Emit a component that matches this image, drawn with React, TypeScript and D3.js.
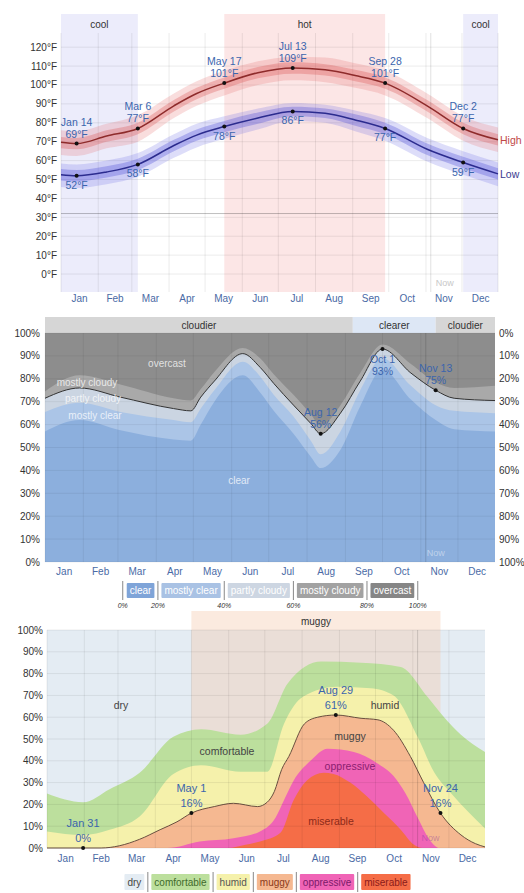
import React from "react";
import * as d3 from "d3";

const YEAR = 2023;
const MONTHS = ["Jan", "Feb", "Mar", "Apr", "May", "Jun", "Jul", "Aug", "Sep", "Oct", "Nov", "Dec"];
const NOW_DATE = "Nov 5";

// ---------- Temperature ----------
const TEMP_DAYS = [0, 13, 38, 64, 94, 113, 136, 164, 193, 220, 245, 270, 305, 335, 364];
const HIGH_MEAN = [69.7, 69, 73, 77, 89, 95.5, 101, 106.5, 109, 108, 105, 101, 89, 77, 71];
const HIGH_P90 = [76, 75.5, 79.5, 84, 95.5, 102, 107.5, 112.5, 115, 114.5, 111.5, 107.5, 95.5, 83.5, 77.5];
const HIGH_P75 = [72.5, 72, 76, 80, 92, 98.5, 104, 109.5, 112, 111, 108, 104, 92, 80, 74];
const HIGH_P25 = [66.5, 66, 70, 74, 86, 92.5, 98, 103.5, 106, 105, 102, 98, 86, 74, 68];
const HIGH_P10 = [63, 62.5, 66.5, 70, 82.5, 89, 94.5, 100, 102.5, 101.5, 98.5, 94.5, 82.5, 70.5, 64.5];
const LOW_MEAN = [52.5, 52, 54, 58, 68, 73.5, 78, 82.5, 86, 85, 81.5, 77, 66, 59, 53];
const LOW_P90 = [58.5, 58, 60, 64, 74, 79.5, 83.5, 87.5, 90.5, 89.5, 86.5, 82.5, 72, 65, 59];
const LOW_P75 = [55.5, 55, 57, 61, 71, 76.5, 81, 85.5, 88.5, 87.5, 84.5, 80, 69, 62, 56];
const LOW_P25 = [49.5, 49, 51, 55, 65, 70.5, 75, 79.5, 83.5, 82.5, 78.5, 74, 63, 56, 50];
const LOW_P10 = [46, 45.5, 47.5, 51.5, 61.5, 67, 71.5, 76.5, 81, 80, 75.5, 70.5, 59.5, 52.5, 46.5];
const TEMP_TICKS = [0, 10, 20, 30, 40, 50, 60, 70, 80, 90, 100, 110, 120];
const TEMP_ANNOT_DATES = ["Jan 14", "Mar 6", "May 17", "Jul 13", "Sep 28", "Dec 2"];
const TEMP_ANNOT_HIGH = [69, 77, 101, 109, 101, 77];
const TEMP_ANNOT_LOW = [52, 58, 78, 86, 77, 59];
const TEMP_SEASON_LABELS = ["cool", "hot", "cool"];
const TEMP_SEASON_FROM = ["Jan 1", "May 17", "Dec 2"];
const TEMP_SEASON_TO = ["Mar 6", "Sep 28", "Dec 31"];

// ---------- Cloud cover ----------
const CLOUD_DAYS = [0, 28, 61, 104, 118, 126, 137, 160, 174, 185, 201, 215, 223, 239, 255, 273, 296, 316, 331, 364];
const CLOUD_MOSTLY_CLOUDY_TOP = [74.5, 81.5, 77.5, 71.5, 70.5, 75.5, 83, 93.5, 89, 82, 73, 64.5, 59.5, 68.5, 82.5, 95, 86.5, 78.5, 76, 77];
const CLOUD_PARTLY_CLOUDY_TOP = [71.5, 76, 72, 67, 66, 72, 79, 91, 85, 78, 68.5, 60.5, 56, 65, 79, 93, 82.5, 75, 71.5, 70.5];
const CLOUD_MOSTLY_CLEAR_TOP = [65.5, 69.5, 65.5, 62, 61, 67, 75, 87.5, 81, 73, 63.5, 53, 47, 57, 75, 89, 77, 68.5, 66, 65];
const CLOUD_CLEAR_TOP = [57, 62, 57.5, 53.5, 53, 60, 70, 81.5, 74, 66, 56, 46, 41, 49, 68, 84, 71, 62, 58, 57];
const CLOUD_TICKS = [0, 10, 20, 30, 40, 50, 60, 70, 80, 90, 100];
const CLOUD_ANNOT_DATES = ["Aug 12", "Oct 1", "Nov 13"];
const CLOUD_ANNOT_VALUES = [56, 93, 75];
const CLOUD_ANNOT_BELOW = [false, true, false];
const CLOUD_SEASON_LABELS = ["cloudier", "clearer", "cloudier"];
const CLOUD_SEASON_FROM = ["Jan 1", "Sep 7", "Nov 13"];
const CLOUD_SEASON_TO = ["Sep 7", "Nov 13", "Dec 31"];
const CLOUD_LEGEND = ["clear", "mostly clear", "partly cloudy", "mostly cloudy", "overcast"];
const CLOUD_LEGEND_PCT = ["0%", "20%", "40%", "60%", "80%", "100%"];

// ---------- Humidity ----------
const COMF_DAYS = [0, 30, 52, 77, 105, 128, 161, 183, 200, 228, 261, 294, 316, 330, 344, 364];
const COMF_TOP = [25, 21, 27, 34.5, 51, 54.5, 52, 57, 75.5, 85.5, 85, 83, 69.5, 60, 52, 44];
const HUMID_DAYS = [0, 30, 52, 77, 105, 128, 161, 183, 197, 213, 241, 269, 288, 308, 322, 336, 364];
const HUMID_TOP = [7.6, 6, 8.4, 14.5, 34, 38, 35, 35, 57, 69.5, 74, 73.3, 70, 51, 34.5, 25, 9];
const MUGGY_DAYS = [0, 45, 60, 77, 94, 108, 120, 139, 155, 175, 183, 189, 195, 201, 214, 225, 240, 261, 275, 288, 302, 313, 327, 344, 356, 364];
const MUGGY_TOP = [0, 0, 1, 4, 8.4, 12, 16, 19, 20.5, 19, 21, 26, 36, 42, 57, 60, 61, 59.5, 58.8, 54, 42, 30, 16, 6, 2, 0.5];
const OPPR_DAYS = [0, 100, 127, 155, 177, 190, 197, 205, 219, 233, 255, 274, 288, 298, 308, 319, 326, 364];
const OPPR_TOP = [0, 0, 3, 4.5, 7.6, 14, 22, 31, 40, 45.5, 44, 39, 33, 25, 14, 3, 0, 0];
const MISER_DAYS = [0, 150, 165, 177, 194, 205, 216, 230, 238, 252, 266, 280, 294, 305, 312, 364];
const MISER_TOP = [0, 0, 1.5, 3, 7, 22, 31, 34.5, 34, 30, 23.6, 16, 8.4, 1.5, 0, 0];
const HUM_TICKS = [0, 10, 20, 30, 40, 50, 60, 70, 80, 90, 100];
const HUM_ANNOT_DATES = ["Jan 31", "May 1", "Aug 29", "Nov 24"];
const HUM_ANNOT_VALUES = [0, 16, 61, 16];
const HUM_SEASON_LABEL = "muggy";
const HUM_SEASON_FROM = "May 1";
const HUM_SEASON_TO = "Nov 24";
const HUM_LEGEND = ["dry", "comfortable", "humid", "muggy", "oppressive", "miserable"];

// ---------- helpers ----------
const FONT = "'Liberation Sans', Arial, Helvetica, sans-serif";
const parse = d3.timeParse("%b %d %Y");
const dayOf = (s: string) => d3.timeDay.count(new Date(YEAR, 0, 1), parse(s + " " + YEAR) as Date);
const MONTH_START = d3.range(12).map((m) => d3.timeDay.count(new Date(YEAR, 0, 1), new Date(YEAR, m, 1)));
const MONTH_MID = MONTH_START.map((s, i) => (s + (i < 11 ? MONTH_START[i + 1] : 365)) / 2);
const NOW_DAY = dayOf(NOW_DATE);

let _ctx: CanvasRenderingContext2D | null = null;
function textW(t: string, size: number) {
  if (!_ctx) _ctx = document.createElement("canvas").getContext("2d");
  if (!_ctx) return t.length * size * 0.5;
  _ctx.font = `${size}px 'Liberation Sans', Arial, sans-serif`;
  return _ctx.measureText(t).width;
}

function areaPath(days: number[], lo: number[] | null, hi: number[], x: any, y: any) {
  return d3
    .area<number>()
    .x((d) => x(d))
    .y0((_, i) => y(lo ? lo[i] : 0))
    .y1((_, i) => y(hi[i]))
    .curve(d3.curveMonotoneX)(days) as string;
}
function linePath(days: number[], v: number[], x: any, y: any) {
  return d3
    .line<number>()
    .x((d) => x(d))
    .y((_, i) => y(v[i]))
    .curve(d3.curveMonotoneX)(days) as string;
}

function Legend({ labels, fills, colors, cx, y, h, outer, pct }: any) {
  const pad = 3;
  const gap = 3;
  const widths = labels.map((l: string) => textW(l, 10) + 6);
  const total = d3.sum(widths) + labels.length * (2 * gap) + (labels.length + 1) * 1;
  let x = cx - total / 2;
  const els: any[] = [];
  const seps: number[] = [];
  seps.push(x);
  x += 1 + gap;
  labels.forEach((l: string, i: number) => {
    els.push(
      <g key={l}>
        <rect x={x} y={y} width={widths[i]} height={h} fill={fills[i]} rx={1} />
        <text x={x + widths[i] / 2} y={y + h / 2 + 3.5} textAnchor="middle" fontSize={10} fill={colors[i]}>
          {l}
        </text>
      </g>
    );
    x += widths[i] + gap;
    seps.push(x + 0.5);
    x += 1 + gap;
  });
  void pad;
  return (
    <g fontFamily={FONT}>
      {els}
      {seps.map((s, i) =>
        !outer && (i === 0 || i === seps.length - 1) ? null : (
          <line key={"s" + i} x1={s} x2={s} y1={y - 2} y2={y + h + 2} stroke="#888" strokeWidth={1} />
        )
      )}
      {pct &&
        seps.map((s, i) => (
          <text key={"p" + i} x={s} y={y + h + 10} textAnchor="middle" fontSize={7} fontStyle="italic" fill="#333">
            {pct[i]}
          </text>
        ))}
    </g>
  );
}

function TempPanel() {
  const x = d3.scaleLinear().domain([0, 364]).range([61, 498]);
  const y = d3.scaleLinear().domain([-9.5, 127.5]).range([292, 33]);
  const top = 14;
  const bottom = 292;
  return (
    <g fontFamily={FONT}>
      {TEMP_SEASON_LABELS.map((l, i) => {
        const a = x(dayOf(TEMP_SEASON_FROM[i]));
        const b = x(dayOf(TEMP_SEASON_TO[i]));
        return (
          <g key={i}>
            <rect x={a} y={top} width={b - a} height={bottom - top} fill={l === "hot" ? "#fce6e6" : "#ececfb"} />
            <text x={(a + b) / 2} y={top + 14} textAnchor="middle" fontSize={10} fill="#333">
              {l}
            </text>
          </g>
        );
      })}
      {TEMP_TICKS.map((t) => (
        <line key={t} x1={61} x2={498} y1={y(t)} y2={y(t)} stroke="rgba(0,0,0,0.08)" />
      ))}
      {MONTH_START.concat([364]).map((d, i) => (
        <line key={i} x1={x(d)} x2={x(d)} y1={33} y2={bottom} stroke="rgba(0,0,0,0.08)" />
      ))}
      <line x1={61} x2={498} y1={y(32)} y2={y(32)} stroke="rgba(0,0,0,0.25)" />
      <path d={areaPath(TEMP_DAYS, HIGH_P10, HIGH_P90, x, y)} fill="rgba(228,100,100,0.22)" />
      <path d={areaPath(TEMP_DAYS, HIGH_P25, HIGH_P75, x, y)} fill="rgba(215,75,75,0.30)" />
      <path d={areaPath(TEMP_DAYS, LOW_P10, LOW_P90, x, y)} fill="rgba(100,100,228,0.22)" />
      <path d={areaPath(TEMP_DAYS, LOW_P25, LOW_P75, x, y)} fill="rgba(75,75,215,0.32)" />
      <path d={linePath(TEMP_DAYS, HIGH_MEAN, x, y)} fill="none" stroke="#8e2b2b" strokeWidth={1.5} />
      <path d={linePath(TEMP_DAYS, LOW_MEAN, x, y)} fill="none" stroke="#2b2b8e" strokeWidth={1.5} />
      <line x1={x(NOW_DAY)} x2={x(NOW_DAY)} y1={33} y2={bottom} stroke="rgba(0,0,0,0.12)" />
      <text x={x(NOW_DAY) + 14} y={286} textAnchor="middle" fontSize={9} fill="#c8c8c8">
        Now
      </text>
      {TEMP_ANNOT_DATES.map((dt, i) => {
        const px = x(dayOf(dt));
        const hy = y(TEMP_ANNOT_HIGH[i]);
        const ly = y(TEMP_ANNOT_LOW[i]);
        return (
          <g key={dt} fontSize={10.5} fill="#3b65ad" textAnchor="middle">
            <circle cx={px} cy={hy} r={2} fill="#111" />
            <circle cx={px} cy={ly} r={2} fill="#111" />
            <text x={px} y={hy - 18}>{dt}</text>
            <text x={px} y={hy - 6}>{TEMP_ANNOT_HIGH[i]}°F</text>
            <text x={px} y={ly + 13}>{TEMP_ANNOT_LOW[i]}°F</text>
          </g>
        );
      })}
      {TEMP_TICKS.map((t) => (
        <text key={t} x={57} y={y(t) + 3.5} textAnchor="end" fontSize={10} fill="#333">
          {t}°F
        </text>
      ))}
      {MONTHS.map((m, i) => (
        <text key={m} x={x(MONTH_MID[i])} y={301.5} textAnchor="middle" fontSize={10} fill="#4a6aa5">
          {m}
        </text>
      ))}
      <text x={500} y={y(HIGH_MEAN[HIGH_MEAN.length - 1]) + 4} fontSize={10.5} fill="#c04848">
        High
      </text>
      <text x={500} y={y(LOW_MEAN[LOW_MEAN.length - 1]) + 4} fontSize={10.5} fill="#3a3a90">
        Low
      </text>
    </g>
  );
}

function CloudPanel() {
  const x = d3.scaleLinear().domain([0, 364]).range([45, 495]);
  const y = d3.scaleLinear().domain([0, 100]).range([562, 333]);
  return (
    <g fontFamily={FONT}>
      {CLOUD_SEASON_LABELS.map((l, i) => {
        const a = x(dayOf(CLOUD_SEASON_FROM[i]));
        const b = x(dayOf(CLOUD_SEASON_TO[i]));
        return (
          <g key={i}>
            <rect x={a} y={317} width={b - a} height={16} fill={l === "clearer" ? "#dde7f5" : "#d6d6d6"} />
            <text x={(a + b) / 2} y={328.5} textAnchor="middle" fontSize={10} fill="#333">
              {l}
            </text>
          </g>
        );
      })}
      <rect x={45} y={333} width={450} height={229} fill="#8d8d8d" />
      <path d={areaPath(CLOUD_DAYS, null, CLOUD_MOSTLY_CLOUDY_TOP, x, y)} fill="#a9a9a9" />
      <path d={areaPath(CLOUD_DAYS, null, CLOUD_PARTLY_CLOUDY_TOP, x, y)} fill="#cbd5e2" />
      <path d={areaPath(CLOUD_DAYS, null, CLOUD_MOSTLY_CLEAR_TOP, x, y)} fill="#abc5e7" />
      <path d={areaPath(CLOUD_DAYS, null, CLOUD_CLEAR_TOP, x, y)} fill="#8cafdd" />
      <path d={linePath(CLOUD_DAYS, CLOUD_PARTLY_CLOUDY_TOP, x, y)} fill="none" stroke="#333" strokeWidth={1} />
      {CLOUD_TICKS.map((t) => (
        <line key={t} x1={45} x2={495} y1={y(t)} y2={y(t)} stroke="rgba(0,0,0,0.06)" />
      ))}
      {MONTH_START.map((d, i) => (
        <line key={i} x1={x(d)} x2={x(d)} y1={333} y2={562} stroke="rgba(0,0,0,0.06)" />
      ))}
      <line x1={x(NOW_DAY)} x2={x(NOW_DAY)} y1={333} y2={562} stroke="rgba(0,0,0,0.15)" />
      <text x={x(NOW_DAY) + 10} y={556} textAnchor="middle" fontSize={9} fill="rgba(255,255,255,0.45)">
        Now
      </text>
      <g fontSize={10} textAnchor="middle" fill="rgba(255,255,255,0.75)">
        <text x={167} y={367}>overcast</text>
        <text x={87} y={386}>mostly cloudy</text>
        <text x={93} y={402}>partly cloudy</text>
        <text x={95} y={418.5}>mostly clear</text>
        <text x={239} y={484}>clear</text>
      </g>
      {CLOUD_ANNOT_DATES.map((dt, i) => {
        const px = x(dayOf(dt));
        const py = y(CLOUD_ANNOT_VALUES[i]);
        const below = CLOUD_ANNOT_BELOW[i];
        return (
          <g key={dt} fontSize={10.5} fill="#3b65ad" textAnchor="middle">
            <circle cx={px} cy={py} r={2} fill="#111" />
            <text x={px} y={below ? py + 13.5 : py - 18}>{dt}</text>
            <text x={px} y={below ? py + 25.5 : py - 6}>{CLOUD_ANNOT_VALUES[i]}%</text>
          </g>
        );
      })}
      {CLOUD_TICKS.map((t) => (
        <g key={t} fontSize={10} fill="#333">
          <text x={40} y={y(t) + 3.5} textAnchor="end">
            {t}%
          </text>
          <text x={499} y={y(t) + 3.5} textAnchor="start">
            {100 - t}%
          </text>
        </g>
      ))}
      {MONTHS.map((m, i) => (
        <text key={m} x={x(MONTH_MID[i])} y={574.5} textAnchor="middle" fontSize={10} fill="#4a6aa5">
          {m}
        </text>
      ))}
      <Legend
        labels={CLOUD_LEGEND}
        fills={["#7fa4d8", "#a9c2e4", "#cdd6e2", "#a2a2a2", "#868686"]}
        colors={["#fff", "#fff", "#fff", "#fff", "#fff"]}
        cx={270.5}
        y={583}
        h={15}
        outer={true}
        pct={CLOUD_LEGEND_PCT}
      />
    </g>
  );
}

function HumidityPanel() {
  const x = d3.scaleLinear().domain([0, 364]).range([47, 485]);
  const y = d3.scaleLinear().domain([0, 100]).range([848, 630]);
  const a = x(dayOf(HUM_SEASON_FROM));
  const b = x(dayOf(HUM_SEASON_TO));
  return (
    <g fontFamily={FONT}>
      <rect x={47} y={630} width={438} height={218} fill="#e4ecf3" />
      <rect x={a} y={611} width={b - a} height={848 - 611} fill="rgba(245,200,170,0.38)" />
      <text x={(a + b) / 2} y={625} textAnchor="middle" fontSize={10} fill="#333">
        {HUM_SEASON_LABEL}
      </text>
      <path d={areaPath(COMF_DAYS, null, COMF_TOP, x, y)} fill="#bcdf9d" />
      <path d={areaPath(HUMID_DAYS, null, HUMID_TOP, x, y)} fill="#f5f1ab" />
      <path d={areaPath(MUGGY_DAYS, null, MUGGY_TOP, x, y)} fill="#f5b891" />
      <path d={areaPath(OPPR_DAYS, null, OPPR_TOP, x, y)} fill="#f064b6" />
      <path d={areaPath(MISER_DAYS, null, MISER_TOP, x, y)} fill="#f56d47" />
      <path d={linePath(MUGGY_DAYS, MUGGY_TOP, x, y)} fill="none" stroke="#6a5040" strokeWidth={1} />
      {HUM_TICKS.map((t) => (
        <line key={t} x1={47} x2={485} y1={y(t)} y2={y(t)} stroke="rgba(0,0,0,0.07)" />
      ))}
      {MONTH_START.map((d, i) => (
        <line key={i} x1={x(d)} x2={x(d)} y1={630} y2={848} stroke="rgba(0,0,0,0.07)" />
      ))}
      <line x1={x(NOW_DAY)} x2={x(NOW_DAY)} y1={630} y2={848} stroke="rgba(0,0,0,0.15)" />
      <text x={x(NOW_DAY) + 13} y={841} textAnchor="middle" fontSize={9} fill="rgba(140,60,160,0.45)">
        Now
      </text>
      <g fontSize={10.5} textAnchor="middle" fill="#444">
        <text x={121} y={709}>dry</text>
        <text x={227} y={755}>comfortable</text>
        <text x={385} y={709}>humid</text>
        <text x={350} y={740}>muggy</text>
        <text x={350} y={770} fill="#8a1f70">oppressive</text>
        <text x={331} y={825} fill="#8a2a1a">miserable</text>
      </g>
      {HUM_ANNOT_DATES.map((dt, i) => {
        const px = x(dayOf(dt));
        const py = y(HUM_ANNOT_VALUES[i]);
        return (
          <g key={dt} fontSize={11} fill="#3b65ad" textAnchor="middle">
            <circle cx={px} cy={py} r={2} fill="#111" />
            <text x={px} y={py - 21}>{dt}</text>
            <text x={px} y={py - 6}>{HUM_ANNOT_VALUES[i]}%</text>
          </g>
        );
      })}
      {HUM_TICKS.map((t) => (
        <text key={t} x={43} y={y(t) + 3.5} textAnchor="end" fontSize={10} fill="#333">
          {t}%
        </text>
      ))}
      {MONTHS.map((m, i) => (
        <text key={m} x={x(MONTH_MID[i])} y={861.5} textAnchor="middle" fontSize={10} fill="#4a6aa5">
          {m}
        </text>
      ))}
      <Legend
        labels={HUM_LEGEND}
        fills={["#e4ecf3", "#bcdf9d", "#f5f1ab", "#f5b891", "#f064b6", "#f56d47"]}
        colors={["#444", "#3f6a2c", "#555", "#8a3a1a", "#7a1a6a", "#8a1a1a"]}
        cx={267.5}
        y={874}
        h={16}
        outer={false}
        pct={null}
      />
    </g>
  );
}

export default function App() {
  return (
    <svg
      width={524}
      height={893}
      viewBox="0 0 524 893"
      style={{ position: "absolute", left: 0, top: 0, display: "block", background: "#fff" }}
    >
      <rect width={524} height={893} fill="#fff" />
      <TempPanel />
      <CloudPanel />
      <HumidityPanel />
    </svg>
  );
}
